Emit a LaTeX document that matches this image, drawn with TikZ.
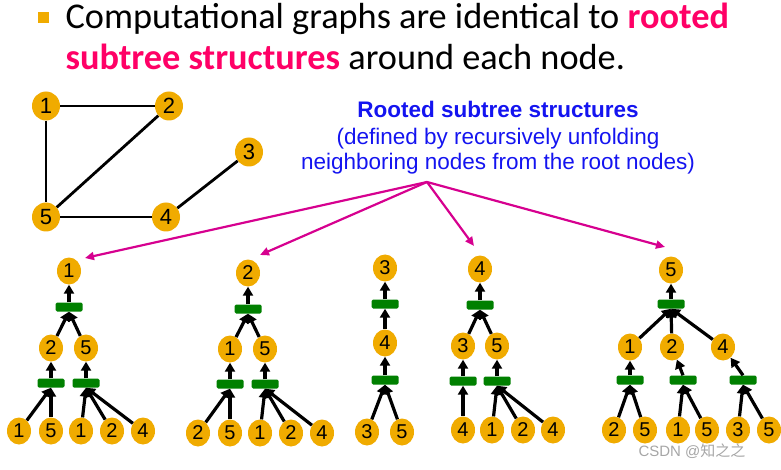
\documentclass[tikz,border=0pt]{standalone}
\usepackage{fontspec}
\setmainfont{Liberation Sans}
\newfontfamily\titlefont{Carlito}
\newfontfamily\cjkfont{Noto Sans CJK SC}
\usetikzlibrary{arrows.meta,shapes.geometric}
\definecolor{gold}{RGB}{240,171,0}
\definecolor{bargreen}{RGB}{0,128,0}
\definecolor{hot}{RGB}{255,0,102}
\definecolor{mag}{RGB}{214,0,143}
\definecolor{txtblue}{RGB}{20,20,240}
\begin{document}
\begin{tikzpicture}[x=1pt,y=-1pt,
 gnode/.style={ellipse,fill=gold,inner sep=0pt,minimum width=28pt,minimum height=29pt,font=\fontsize{22}{22}\selectfont},
 tnode/.style={ellipse,fill=gold,inner sep=0pt,minimum width=24pt,minimum height=27pt,font=\fontsize{20}{20}\selectfont},
 bar/.style={fill=bargreen,rounded corners=1.5pt,minimum width=27pt,minimum height=9pt,inner sep=0pt},
 gedge/.style={line width=2.8pt},
 tarrow/.style={line width=3.2pt,-{Triangle[length=9pt,width=10pt]}},
 marrow/.style={line width=2.2pt,draw=mag,-{Triangle[length=9pt,width=8pt]},fill=mag},
 title/.style={anchor=base west,font=\titlefont\fontsize{36.3}{40}\selectfont},
 blue/.style={anchor=base,text=txtblue,font=\fontsize{22.5}{26}\selectfont},
]
\useasboundingbox (0,0) rectangle (781,470);
% title
\node[fill=gold,minimum size=11pt,inner sep=0pt] (bullet) at (43,18) {};
\node[title] (t1) at (62,29) {Computational graphs are identical to \textcolor{hot}{\bfseries rooted}};
\node[title] (t2) at (62,70) {\textcolor{hot}{\bfseries subtree structures} around each node.};
% input graph
\node[gnode] (g1) at (46,106) {1};
\node[gnode] (g2) at (169,106) {2};
\node[gnode] (g3) at (249,152) {3};
\node[gnode] (g5) at (46,217) {5};
\node[gnode] (g4) at (166,217) {4};
\draw[gedge] (g1) -- (g2);
\draw[gedge] (g1) -- (g5);
\draw[gedge] (g2) -- (g5);
\draw[gedge] (g5) -- (g4);
\draw[gedge] (g4) -- (g3);
% blue caption
\node[blue,font=\bfseries\fontsize{22.5}{26}\selectfont] (c1) at (498,118) {Rooted subtree structures};
\node[blue] (c2) at (498,145) {(defined by recursively unfolding};
\node[blue] (c3) at (498,170) {neighboring nodes from the root nodes)};
\coordinate (src) at (427,182);
% tree 1
\node[tnode] (A) at (69,271) {1};
\node[bar] (Ab) at (69,307) {};
\node[tnode] (A2) at (51,348) {2};
\node[tnode] (A5) at (86,348) {5};
\node[bar] (A2b) at (51,383) {};
\node[bar] (A5b) at (86,383) {};
\node[tnode] (Al1) at (19,431) {1};
\node[tnode] (Al2) at (51,431) {5};
\node[tnode] (Al3) at (81,431) {1};
\node[tnode] (Al4) at (112,431) {2};
\node[tnode] (Al5) at (143,431) {4};
\draw[tarrow] (Ab.north) -- (A);
\draw[tarrow] (A2) -- (Ab.south);
\draw[tarrow] (A5) -- (Ab.south);
\draw[tarrow] (A2b.north) -- (A2);
\draw[tarrow] (A5b.north) -- (A5);
\draw[tarrow] (Al1) -- (A2b.south);
\draw[tarrow] (Al2) -- (A2b.south);
\draw[tarrow] (Al3) -- (A5b.south);
\draw[tarrow] (Al4) -- (A5b.south);
\draw[tarrow] (Al5) -- (A5b.south);
% tree 2
\node[tnode] (B) at (248,273) {2};
\node[bar] (Bb) at (248,309) {};
\node[tnode] (B1) at (230,349) {1};
\node[tnode] (B5) at (265,349) {5};
\node[bar] (B1b) at (230,384) {};
\node[bar] (B5b) at (265,384) {};
\node[tnode] (Bl1) at (198,433) {2};
\node[tnode] (Bl2) at (230,433) {5};
\node[tnode] (Bl3) at (260,433) {1};
\node[tnode] (Bl4) at (291,433) {2};
\node[tnode] (Bl5) at (322,433) {4};
\draw[tarrow] (Bb.north) -- (B);
\draw[tarrow] (B1) -- (Bb.south);
\draw[tarrow] (B5) -- (Bb.south);
\draw[tarrow] (B1b.north) -- (B1);
\draw[tarrow] (B5b.north) -- (B5);
\draw[tarrow] (Bl1) -- (B1b.south);
\draw[tarrow] (Bl2) -- (B1b.south);
\draw[tarrow] (Bl3) -- (B5b.south);
\draw[tarrow] (Bl4) -- (B5b.south);
\draw[tarrow] (Bl5) -- (B5b.south);
% tree 3
\node[tnode] (C) at (385,268) {3};
\node[bar] (Cb) at (385,304) {};
\node[tnode] (C4) at (385,343) {4};
\node[bar] (C4b) at (385,380) {};
\node[tnode] (Cl1) at (367,432) {3};
\node[tnode] (Cl2) at (402,432) {5};
\draw[tarrow] (Cb.north) -- (C);
\draw[tarrow] (C4) -- (Cb.south);
\draw[tarrow] (C4b.north) -- (C4);
\draw[tarrow] (Cl1) -- (C4b.south);
\draw[tarrow] (Cl2) -- (C4b.south);
% tree 4
\node[tnode] (D) at (480,269) {4};
\node[bar] (Db) at (480,305) {};
\node[tnode] (D3) at (463,346) {3};
\node[tnode] (D5) at (497,346) {5};
\node[bar] (D3b) at (463,381) {};
\node[bar] (D5b) at (497,381) {};
\node[tnode] (Dl1) at (463,430) {4};
\node[tnode] (Dl2) at (492,430) {1};
\node[tnode] (Dl3) at (523,430) {2};
\node[tnode] (Dl4) at (553,430) {4};
\draw[tarrow] (Db.north) -- (D);
\draw[tarrow] (D3) -- (Db.south);
\draw[tarrow] (D5) -- (Db.south);
\draw[tarrow] (D3b.north) -- (D3);
\draw[tarrow] (D5b.north) -- (D5);
\draw[tarrow] (Dl1) -- (D3b.south);
\draw[tarrow] (Dl2) -- (D5b.south);
\draw[tarrow] (Dl3) -- (D5b.south);
\draw[tarrow] (Dl4) -- (D5b.south);
% tree 5
\node[tnode] (E) at (671,270) {5};
\node[bar] (Eb) at (671,304) {};
\node[tnode] (E1) at (630,347) {1};
\node[tnode] (E2) at (672,347) {2};
\node[tnode] (E4) at (723,347) {4};
\node[bar] (E1b) at (630,380) {};
\node[bar] (E2b) at (683,380) {};
\node[bar] (E4b) at (743,380) {};
\node[tnode] (El1) at (614,430) {2};
\node[tnode] (El2) at (645,430) {5};
\node[tnode] (El3) at (678,430) {1};
\node[tnode] (El4) at (707,430) {5};
\node[tnode] (El5) at (738,430) {3};
\node[tnode] (El6) at (769,430) {5};
\draw[tarrow] (Eb.north) -- (E);
\draw[tarrow] (E1) -- (Eb.south);
\draw[tarrow] (E2) -- (Eb.south);
\draw[tarrow] (E4) -- (Eb.south);
\draw[tarrow] (E1b.north) -- (E1);
\draw[tarrow] (E2b.north) -- (E2);
\draw[tarrow] (E4b.north) -- (E4);
\draw[tarrow] (El1) -- (E1b.south);
\draw[tarrow] (El2) -- (E1b.south);
\draw[tarrow] (El3) -- (E2b.south);
\draw[tarrow] (El4) -- (E2b.south);
\draw[tarrow] (El5) -- (E4b.south);
\draw[tarrow] (El6) -- (E4b.south);
% magenta arrows
\coordinate (m1) at (85,258);
\coordinate (m2) at (260,255);
\coordinate (m4) at (474,246);
\coordinate (m5) at (665,247);
\draw[marrow] (src) -- (m1);
\draw[marrow] (src) -- (m2);
\draw[marrow] (src) -- (m4);
\draw[marrow] (src) -- (m5);
% watermark
\node[anchor=base west,text=black!35,font=\fontsize{15}{15}\selectfont] (wm) at (635,456) {CSDN @{\cjkfont 知之之}};
\end{tikzpicture}
\end{document}
